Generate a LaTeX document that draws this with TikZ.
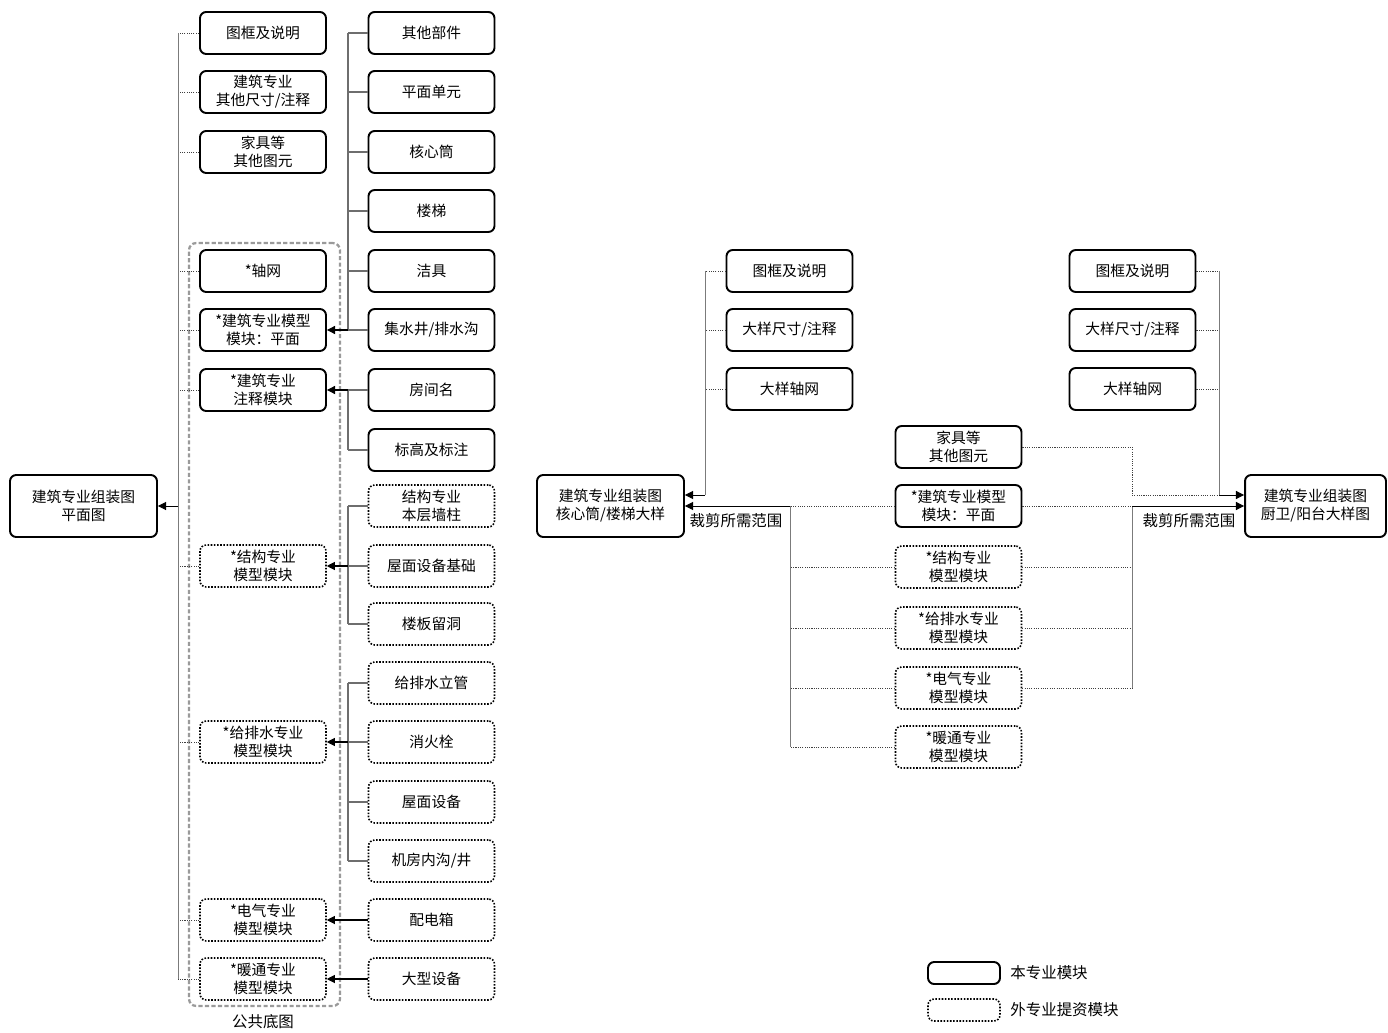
\documentclass[tikz,border=0pt]{standalone}
\usepackage{fontspec}
\setmainfont{Noto Sans CJK SC}
\usetikzlibrary{arrows.meta}
\definecolor{feedgray}{HTML}{6E6E6E}
\definecolor{framegray}{HTML}{9A9A9A}

\tikzset{
  own/.style={draw=black,line width=1.1pt,rounded corners=3.5pt,minimum width=2.52cm,minimum height=0.84cm,
    align=center,inner sep=1pt,font=\fontsize{8.4}{10.2}\selectfont},
  ext/.style={own,line width=0.9pt,dash pattern=on 0.9pt off 0.9pt},
  asm/.style={own,minimum width=2.94cm,minimum height=1.24cm},
  feed/.style={draw=feedgray,line width=0.6pt},
  trunk/.style={draw=framegray!80!black,line width=0.5pt},
  ref/.style={draw=black!75,line width=0.5pt,dash pattern=on 0.6pt off 0.7pt},
  tip/.style={-{Triangle[length=4.6pt,width=4.6pt]},black},
  lbl/.style={inner sep=0pt,font=\fontsize{8.8}{10.5}\selectfont},
  pubframe/.style={draw=framegray,line width=1.3pt,dash pattern=on 2.4pt off 1.3pt,rounded corners=4pt,
    minimum width=3.02cm,minimum height=15.26cm}
}

\begin{document}
\begin{tikzpicture}[x=0.02cm,y=-0.02cm]
\useasboundingbox (0,0) rectangle (1388,1033);

% left: plan assembly
\node[asm] (plan) at (83.5,506) {建筑专业组装图\\平面图};
\node[pubframe] (pub) at (264.5,624.5) {};
\node[lbl] (publbl) at (263,1022) {公共底图};

\node[own] (b1) at (263,33) {图框及说明};
\node[own] (b2) at (263,92) {建筑专业\\其他尺寸/注释};
\node[own] (b3) at (263,152) {家具等\\其他图元};
\node[own] (b4) at (263,271) {*轴网};
\node[own] (b5) at (263,330) {*建筑专业模型\\模块：平面};
\node[own] (b6) at (263,390) {*建筑专业\\注释模块};
\node[ext] (b7) at (263,566) {*结构专业\\模型模块};
\node[ext] (b8) at (263,742) {*给排水专业\\模型模块};
\node[ext] (b9) at (263,920) {*电气专业\\模型模块};
\node[ext] (b10) at (263,979) {*暖通专业\\模型模块};

\node[own] (c1) at (431.5,33) {其他部件};
\node[own] (c2) at (431.5,92) {平面单元};
\node[own] (c3) at (431.5,152) {核心筒};
\node[own] (c4) at (431.5,211) {楼梯};
\node[own] (c5) at (431.5,271) {洁具};
\node[own] (c6) at (431.5,330) {集水井/排水沟};
\node[own] (c7) at (431.5,390) {房间名};
\node[own] (c8) at (431.5,450) {标高及标注};
\node[ext] (c9) at (431.5,506) {结构专业\\本层墙柱};
\node[ext] (c10) at (431.5,566) {屋面设备基础};
\node[ext] (c11) at (431.5,624) {楼板留洞};
\node[ext] (c12) at (431.5,683) {给排水立管};
\node[ext] (c13) at (431.5,742) {消火栓};
\node[ext] (c14) at (431.5,802) {屋面设备};
\node[ext] (c15) at (431.5,861) {机房内沟/井};
\node[ext] (c16) at (431.5,920) {配电箱};
\node[ext] (c17) at (431.5,979) {大型设备};

\coordinate (ltrunk) at (178,506);
\coordinate (ctrunk) at (348,506);
\foreach \i in {1,...,10} \draw[ref] (b\i.west) -- (b\i.west -| ltrunk);
\draw[trunk] (b1.west -| ltrunk) -- (b10.west -| ltrunk);
\draw[trunk,tip] (ltrunk) -- (plan.east);

\foreach \i in {1,...,15} \draw[feed] (c\i.west) -- (c\i.west -| ctrunk);
\draw[feed] (c1.west -| ctrunk) -- (c6.west -| ctrunk);
\draw[feed] (c7.west -| ctrunk) -- (c8.west -| ctrunk);
\draw[feed] (c9.west -| ctrunk) -- (c11.west -| ctrunk);
\draw[feed] (c12.west -| ctrunk) -- (c15.west -| ctrunk);
\draw[feed,tip] (c6.west -| ctrunk) -- (b5.east);
\draw[feed,tip] (c7.west -| ctrunk) -- (b6.east);
\draw[feed,tip] (c10.west -| ctrunk) -- (b7.east);
\draw[feed,tip] (c13.west -| ctrunk) -- (b8.east);
\draw[feed,tip] (c16.west) -- (b9.east);
\draw[feed,tip] (c17.west) -- (b10.east);

% middle: core / stair detail
\node[asm] (core) at (610.5,506) {建筑专业组装图\\核心筒/楼梯大样};
\node[own] (m1) at (789.5,271) {图框及说明};
\node[own] (m2) at (789.5,330) {大样尺寸/注释};
\node[own] (m3) at (789.5,389) {大样轴网};

\node[own] (s1) at (958.5,447) {家具等\\其他图元};
\node[own] (s2) at (958.5,506) {*建筑专业模型\\模块：平面};
\node[ext] (s3) at (958.5,567) {*结构专业\\模型模块};
\node[ext] (s4) at (958.5,628) {*给排水专业\\模型模块};
\node[ext] (s5) at (958.5,688) {*电气专业\\模型模块};
\node[ext] (s6) at (958.5,747) {*暖通专业\\模型模块};

\coordinate (mtrunk) at (705,495);
\coordinate (strunk) at (790,506);
\foreach \i in {1,2,3} \draw[ref] (m\i.west) -- (m\i.west -| mtrunk);
\draw[trunk] (m1.west -| mtrunk) -- (mtrunk);
\draw[trunk,tip] (mtrunk) -- (mtrunk -| core.east);
\foreach \i in {2,...,6} \draw[ref] (s\i.west) -- (s\i.west -| strunk);
\draw[trunk] (strunk) -- (s6.west -| strunk);
\draw[trunk,tip] (strunk) -- (core.east);
\node[lbl] (cutl) at (736,521) {裁剪所需范围};

% right: kitchen / balcony detail
\node[asm,minimum width=2.82cm] (wet) at (1315.5,506) {建筑专业组装图\\厨卫/阳台大样图};
\node[own] (r1) at (1132.5,271) {图框及说明};
\node[own] (r2) at (1132.5,330) {大样尺寸/注释};
\node[own] (r3) at (1132.5,389) {大样轴网};

\coordinate (rtrunk) at (1219,495);
\coordinate (wtrunk) at (1132,506);
\foreach \i in {1,2,3} \draw[ref] (r\i.east) -- (r\i.east -| rtrunk);
\draw[trunk] (r1.east -| rtrunk) -- (rtrunk);
\draw[ref] (s1.east) -| (rtrunk -| wtrunk) -- (rtrunk);
\draw[trunk,tip] (rtrunk) -- (rtrunk -| wet.west);
\foreach \i in {2,...,5} \draw[ref] (s\i.east) -- (s\i.east -| wtrunk);
\draw[trunk] (wtrunk) -- (s5.east -| wtrunk);
\draw[trunk,tip] (wtrunk) -- (wet.west);
\node[lbl] (cutr) at (1189,521) {裁剪所需范围};

% legend
\node[own,minimum width=1.44cm,minimum height=0.44cm] (legown) at (964,973) {};
\node[ext,minimum width=1.44cm,minimum height=0.44cm] (legext) at (964,1010) {};
\node[lbl,anchor=west] (legownt) at (1010,973) {本专业模块};
\node[lbl,anchor=west] (legextt) at (1010,1010) {外专业提资模块};
\end{tikzpicture}
\end{document}
